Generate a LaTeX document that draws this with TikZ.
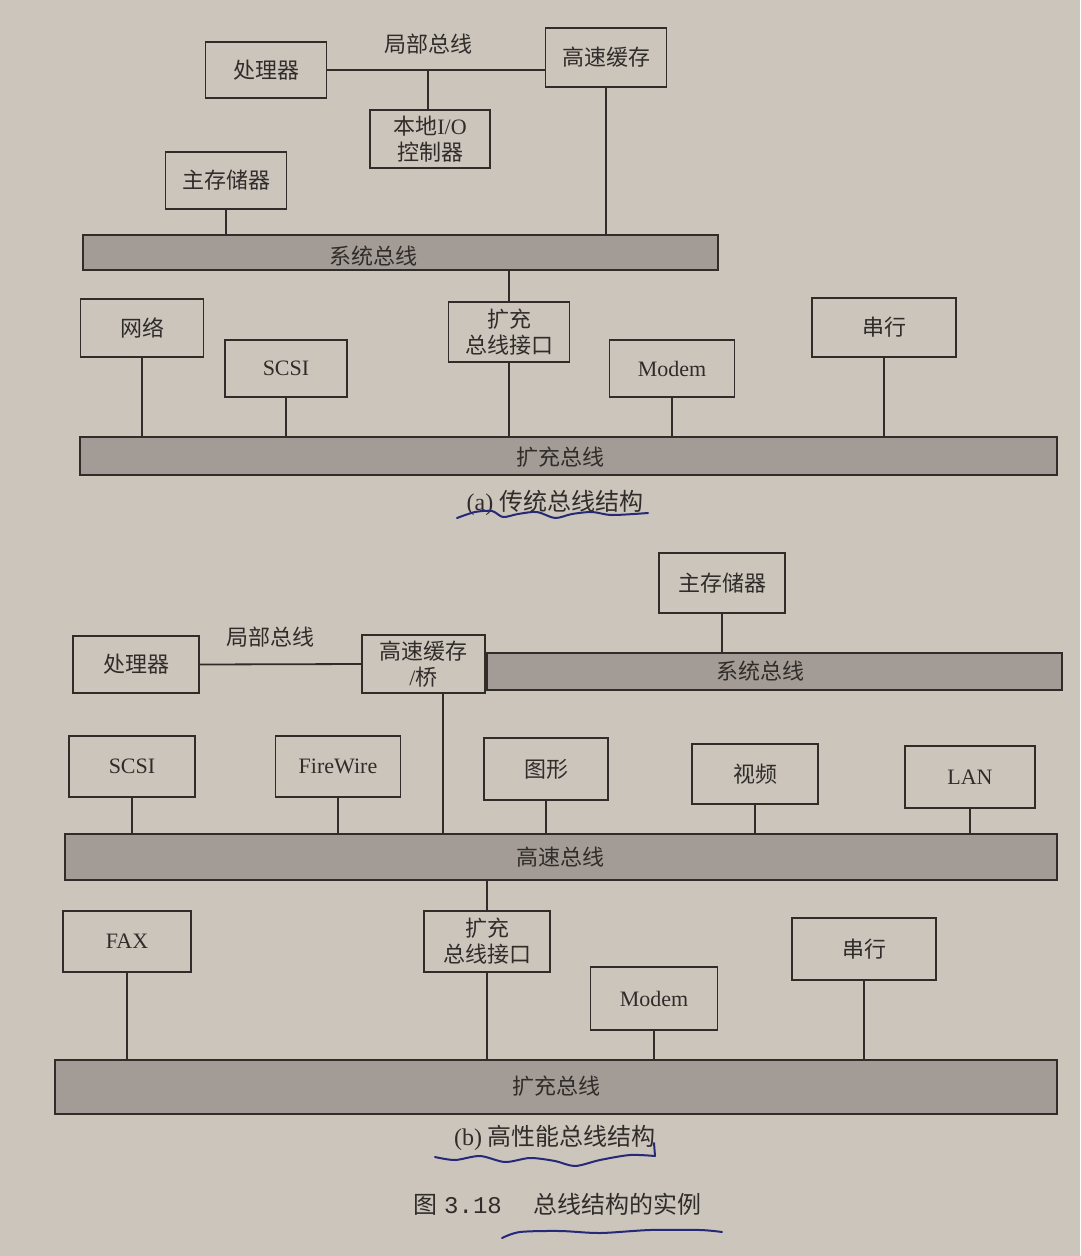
\documentclass[tikz,border=0pt]{standalone}
\usepackage{fontspec}
\setmainfont{Liberation Serif}
\newfontfamily\cjk{Noto Sans CJK SC}
\newfontfamily\figmono{Liberation Mono}
\newcommand{\zh}[1]{{\cjk #1}}
\definecolor{paper}{RGB}{204,197,188}
\definecolor{busgray}{RGB}{163,156,150}
\definecolor{ink}{RGB}{48,44,42}
\definecolor{pen}{RGB}{38,40,120}

\begin{document}
\begin{tikzpicture}[x=1pt,y=-1pt,
  box/.style={draw=ink,line width=1.8pt,inner sep=0pt,align=center,text=ink,font=\fontsize{22}{26}\selectfont},
  bus/.style={draw=ink,line width=1.8pt,fill=busgray,inner sep=0pt},
  lbl/.style={inner sep=0pt,text=ink,font=\fontsize{22}{26}\selectfont},
  captext/.style={inner sep=0pt,text=ink,font=\fontsize{24}{28}\selectfont},
  wire/.style={draw=ink,line width=1.8pt},
  scribble/.style={pen,line width=2pt,line cap=round}]
\fill[paper] (0,0) rectangle (1080,1256);
\useasboundingbox (0,0) rectangle (1080,1256);

% (a) traditional bus structure
\node[box,minimum width=121pt,minimum height=56pt] (cpuA) at (266,70) {\zh{处理器}};
\node[box,minimum width=121pt,minimum height=59pt] (cacheA) at (606,57.5) {\zh{高速缓存}};
\node[box,minimum width=120pt,minimum height=58pt] (ioA) at (430,139) {\zh{本地}I/O\\\zh{控制器}};
\node[box,minimum width=121pt,minimum height=57pt] (memA) at (226,180.5) {\zh{主存储器}};
\node[lbl] (localA) at (428,44) {\zh{局部总线}};
\coordinate (tapA) at (428,70);
\node[bus,minimum width=635pt,minimum height=35pt] (sysbusA) at (400.5,252.5) {};
\node[lbl] (sysbusA-t) at (373,256) {\zh{系统总线}};
\node[box,minimum width=123pt,minimum height=58pt] (netA) at (142,328) {\zh{网络}};
\node[box,minimum width=122pt,minimum height=57pt] (scsiA) at (286,368.5) {SCSI};
\node[box,minimum width=121pt,minimum height=60pt] (expifA) at (509,332) {\zh{扩充}\\\zh{总线接口}};
\node[box,minimum width=125pt,minimum height=57pt] (modemA) at (672,368.5) {Modem};
\node[box,minimum width=144pt,minimum height=59pt] (serialA) at (884,327.5) {\zh{串行}};
\node[bus,minimum width=977pt,minimum height=38pt] (expbusA) at (568.5,456) {};
\node[lbl] (expbusA-t) at (560,457) {\zh{扩充总线}};

\draw[wire] (cpuA.east) -- (cacheA.west |- cpuA.east);
\draw[wire] (tapA) -- (ioA.north -| tapA);
\draw[wire] (memA.south) -- (memA.south |- sysbusA.north);
\draw[wire] (cacheA.south) -- (cacheA.south |- sysbusA.north);
\draw[wire] (expifA.north) -- (expifA.north |- sysbusA.south);
\foreach \n in {netA,scsiA,expifA,modemA,serialA}
  \draw[wire] (\n.south) -- (\n.south |- expbusA.north);

\node[captext] (capA) at (555,503) {(a) \zh{传统总线结构}};
\draw[scribble] plot[smooth] coordinates {(457,518) (475,512) (492,511) (503,517) (518,514) (537,512) (555,518) (572,514) (592,512) (612,515) (648,513)};

% (b) high-performance bus structure
\node[box,minimum width=126pt,minimum height=60pt] (memB) at (722,583) {\zh{主存储器}};
\node[box,minimum width=126pt,minimum height=57pt] (cpuB) at (136,664.5) {\zh{处理器}};
\node[box,minimum width=123pt,minimum height=58pt] (bridgeB) at (423.5,664) {\zh{高速缓存}\\/\zh{桥}};
\node[lbl] (localB) at (270,637) {\zh{局部总线}};
\node[bus,minimum width=575pt,minimum height=37pt,anchor=west] (sysbusB) at (bridgeB.east |- 0,671.5) {};
\node[lbl] (sysbusB-t) at (760,671) {\zh{系统总线}};
\node[box,minimum width=126pt,minimum height=61pt] (scsiB) at (132,766.5) {SCSI};
\node[box,minimum width=125pt,minimum height=61pt] (fwB) at (338,766.5) {FireWire};
\node[box,minimum width=124pt,minimum height=62pt] (gfxB) at (546,769) {\zh{图形}};
\node[box,minimum width=126pt,minimum height=60pt] (vidB) at (755,774) {\zh{视频}};
\node[box,minimum width=130pt,minimum height=62pt] (lanB) at (970,777) {LAN};
\node[bus,minimum width=992pt,minimum height=46pt] (hsbusB) at (561,857) {};
\node[lbl] (hsbusB-t) at (560,857) {\zh{高速总线}};
\node[box,minimum width=128pt,minimum height=61pt] (faxB) at (127,941.5) {FAX};
\node[box,minimum width=126pt,minimum height=61pt] (expifB) at (487,941.5) {\zh{扩充}\\\zh{总线接口}};
\node[box,minimum width=127pt,minimum height=63pt] (modemB) at (654,998.5) {Modem};
\node[box,minimum width=144pt,minimum height=62pt] (serialB) at (864,949) {\zh{串行}};
\node[bus,minimum width=1002pt,minimum height=54pt] (expbusB) at (556,1087) {};
\node[lbl] (expbusB-t) at (556,1086) {\zh{扩充总线}};

\draw[wire] (cpuB.east) -- (bridgeB.west);
\draw[wire] (memB.south) -- (memB.south |- sysbusB.north);
\draw[wire] ([xshift=19.5pt]bridgeB.south) -- ([xshift=19.5pt]bridgeB.south |- hsbusB.north);
\foreach \n in {scsiB,fwB,gfxB,vidB,lanB}
  \draw[wire] (\n.south) -- (\n.south |- hsbusB.north);
\draw[wire] (expifB.north) -- (expifB.north |- hsbusB.south);
\foreach \n in {faxB,expifB,modemB,serialB}
  \draw[wire] (\n.south) -- (\n.south |- expbusB.north);

\node[captext] (capB) at (555,1138) {(b) \zh{高性能总线结构}};
\draw[scribble] plot[smooth] coordinates {(435,1157) (455,1160) (480,1156) (505,1162) (530,1158) (555,1161) (575,1166) (600,1160) (630,1155) (655,1156)};
\draw[scribble] (655,1156) -- (654,1143);

\node[captext] (figcap) at (557,1204) {\zh{图}\hspace{0.3em}{\figmono 3.18}\hspace{1.3em}\zh{总线结构的实例}};
\draw[scribble] plot[smooth] coordinates {(502,1238) (520,1232) (560,1231) (600,1233) (650,1230) (700,1230) (722,1232)};
\end{tikzpicture}
\end{document}
